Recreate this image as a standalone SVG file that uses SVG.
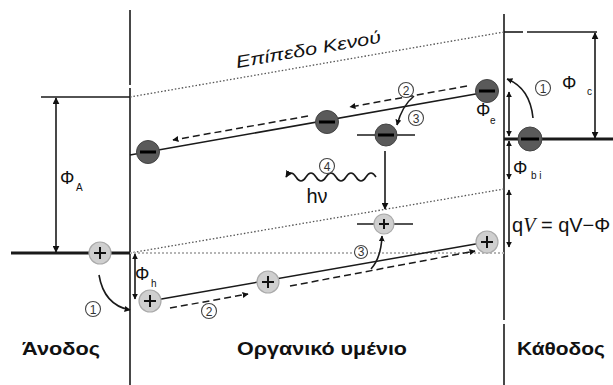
<svg xmlns="http://www.w3.org/2000/svg" width="613" height="385" viewBox="0 0 613 385">
<style>
.ln{stroke:#1a1a1a;fill:none;stroke-width:1.6}
.thick{stroke:#1a1a1a;fill:none;stroke-width:3.2}
.band{stroke:#1a1a1a;fill:none;stroke-width:1.5}
.dash{stroke:#1a1a1a;fill:none;stroke-width:1.5;stroke-dasharray:7 4}
.dot{stroke:#555;fill:none;stroke-width:1.3;stroke-dasharray:1.5 2}
.ldot{stroke:#b5b5b5;fill:none;stroke-width:1.8;stroke-dasharray:2 2}
.el{fill:#5a5a5a;stroke:#444;stroke-width:1}
.ho{fill:#cfcfcf;stroke:#aaa;stroke-width:1.2}
.bar{stroke:#000;stroke-width:3}
.plus{stroke:#111;stroke-width:2}
.t{font-family:"Liberation Sans",Arial,sans-serif;fill:#111}
.lab{font-family:"Liberation Sans",Arial,sans-serif;font-weight:bold;font-size:18px;fill:#111}
.num{font-family:"Liberation Sans",Arial,sans-serif;font-size:12px;fill:#333;text-anchor:middle}
.nc{fill:#fff;stroke:#444;stroke-width:1.1}
</style>
<defs>
<marker id="ah" viewBox="0 0 10 10" refX="9" refY="5" markerWidth="7" markerHeight="7" markerUnits="userSpaceOnUse" orient="auto-start-reverse">
<path d="M0,0 L10,5 L0,10 z" fill="#111"/>
</marker>
<marker id="ahs" viewBox="0 0 10 10" refX="9" refY="5" markerWidth="6" markerHeight="6" markerUnits="userSpaceOnUse" orient="auto-start-reverse">
<path d="M0,0 L10,5 L0,10 z" fill="#111"/>
</marker>
</defs>

<g id="frame">
<line class="ln" x1="130" y1="10" x2="130" y2="85"/>
<line class="ln" x1="130" y1="88" x2="130" y2="385"/>
<line class="ln" x1="504" y1="14" x2="504" y2="320"/>
<line class="ln" x1="504" y1="324" x2="504" y2="385"/>
</g>

<g id="levels">
<line class="dot" x1="130" y1="97" x2="504" y2="32"/>
<line class="ln" x1="41" y1="97" x2="130" y2="97"/>
<line class="ln" x1="504" y1="32" x2="523" y2="32"/>
<line class="ln" x1="527" y1="32" x2="597" y2="32"/>
<line class="thick" x1="11" y1="253" x2="130" y2="253"/>
<line class="thick" x1="504" y1="139" x2="613" y2="139"/>
<line class="dot" x1="130" y1="253" x2="504" y2="189"/>
<line class="ldot" x1="130" y1="253" x2="504" y2="253"/>
<line class="band" x1="130" y1="155" x2="487" y2="92"/>
<line class="band" x1="150" y1="301" x2="487" y2="242"/>
<line class="ln" x1="357" y1="135" x2="415" y2="135"/>
<line class="ln" x1="357" y1="224" x2="413" y2="224"/>
</g>

<g id="connectors">
<line class="ln" x1="56" y1="98" x2="56" y2="252" marker-start="url(#ah)" marker-end="url(#ah)"/>
<line class="ln" x1="595" y1="33" x2="595" y2="138" marker-start="url(#ah)" marker-end="url(#ah)"/>
<line class="ln" x1="135" y1="254" x2="135" y2="299" marker-start="url(#ahs)" marker-end="url(#ahs)"/>
<line class="ln" x1="509" y1="92" x2="509" y2="136" marker-start="url(#ahs)" marker-end="url(#ahs)"/>
<line class="ln" x1="509" y1="141" x2="509" y2="179" marker-start="url(#ahs)" marker-end="url(#ahs)"/>
<line class="ln" x1="509" y1="190" x2="509" y2="247" marker-start="url(#ahs)" marker-end="url(#ahs)"/>
<line class="dash" x1="467" y1="86" x2="350" y2="107" marker-end="url(#ahs)"/>
<line class="dash" x1="308" y1="116" x2="173" y2="140" marker-end="url(#ahs)"/>
<line class="dash" x1="170" y1="308" x2="248" y2="294" marker-end="url(#ahs)"/>
<line class="dash" x1="290" y1="286" x2="475" y2="251" marker-end="url(#ahs)"/>
<path class="ln" d="M533,118 Q530,88 507,79" marker-end="url(#ahs)"/>
<path class="ln" d="M99,275 Q104,305 130,310" marker-end="url(#ahs)"/>
<path class="ln" d="M414,96 Q402,106 397,125" stroke-width="1.2" marker-end="url(#ahs)"/>
<path class="ln" d="M371,269 Q381,258 382,236" stroke-width="1.2" marker-end="url(#ahs)"/>
<line class="ln" x1="385" y1="151" x2="385" y2="209" marker-end="url(#ah)"/>
<path class="ln" stroke-width="1.3" d="M376,177 q-5,-8 -10,0 t-10,0 t-10,0 t-10,0 t-10,0 t-10,0 t-10,0 t-10,0 t-10,0" marker-end="url(#ah)"/>
</g>

<g id="electrons">
<g id="e1"><circle class="el" cx="148" cy="152" r="11.5"/><line class="bar" x1="140" y1="152" x2="156" y2="152"/></g>
<g id="e2"><circle class="el" cx="327" cy="122" r="11.5"/><line class="bar" x1="319" y1="122" x2="335" y2="122"/></g>
<g id="e3"><circle class="el" cx="487" cy="91" r="11.5"/><line class="bar" x1="479" y1="91" x2="495" y2="91"/></g>
<g id="e4"><circle class="el" cx="386" cy="135" r="11"/><line class="bar" x1="378" y1="135" x2="394" y2="135"/></g>
<g id="e5"><circle class="el" cx="530" cy="139" r="12"/><line class="bar" x1="521" y1="139" x2="539" y2="139"/></g>
</g>

<g id="holes">
<g id="h1"><circle class="ho" cx="100" cy="253" r="11"/><line class="plus" x1="94" y1="253" x2="106" y2="253"/><line class="plus" x1="100" y1="247" x2="100" y2="259"/></g>
<g id="h2"><circle class="ho" cx="150" cy="301" r="11"/><line class="plus" x1="144" y1="301" x2="156" y2="301"/><line class="plus" x1="150" y1="295" x2="150" y2="307"/></g>
<g id="h3"><circle class="ho" cx="268" cy="282" r="11"/><line class="plus" x1="262" y1="282" x2="274" y2="282"/><line class="plus" x1="268" y1="276" x2="268" y2="288"/></g>
<g id="h4"><circle class="ho" cx="487" cy="242" r="11"/><line class="plus" x1="481" y1="242" x2="493" y2="242"/><line class="plus" x1="487" y1="236" x2="487" y2="248"/></g>
<g id="h5"><circle class="ho" cx="384" cy="224" r="10"/><line class="plus" x1="379" y1="224" x2="389" y2="224"/><line class="plus" x1="384" y1="219" x2="384" y2="229"/></g>
</g>

<g id="numbers">
<g id="n1a"><circle class="nc" cx="93" cy="309" r="7.5"/><text class="num" x="93" y="313.5">1</text></g>
<g id="n1c"><circle class="nc" cx="543" cy="88" r="7.5"/><text class="num" x="543" y="92.5">1</text></g>
<g id="n2t"><circle class="nc" cx="406" cy="90" r="7.5"/><text class="num" x="406" y="94.5">2</text></g>
<g id="n2b"><circle class="nc" cx="209" cy="311" r="7.5"/><text class="num" x="209" y="315.5">2</text></g>
<g id="n3t"><circle class="nc" cx="416" cy="118" r="7.5"/><text class="num" x="416" y="122.5">3</text></g>
<g id="n3b"><circle class="nc" cx="361" cy="252" r="6.5"/><text class="num" x="361" y="256" font-size="10">3</text></g>
<g id="n4"><circle class="nc" cx="327" cy="166" r="7.5"/><text class="num" x="327" y="170.5">4</text></g>
</g>

<g id="labels">
<text class="t" font-size="20" x="317" y="203" text-anchor="middle">hν</text>
<text class="t" font-size="18" x="60" y="184">Φ</text><text class="t" font-size="10" x="76" y="191">A</text>
<text class="t" font-size="18" x="562" y="89">Φ</text><text class="t" font-size="10" x="587" y="95">c</text>
<text class="t" font-size="18" x="476" y="116">Φ</text><text class="t" font-size="10" x="490" y="124">e</text>
<text class="t" font-size="18" x="513" y="174">Φ</text><text class="t" font-size="10" x="531" y="179">b i</text>
<text class="t" font-size="18" x="135" y="280">Φ</text><text class="t" font-size="10" x="151" y="287">h</text>
<text class="t" font-size="20" x="512" y="232">q<tspan font-family="Liberation Serif" font-style="italic">V</tspan> = qV−Φ</text>
<text class="t" font-size="17" font-style="italic" x="237" y="68" transform="rotate(-10 237 68)" textLength="147" lengthAdjust="spacingAndGlyphs">Επίπεδο Κενού</text>
<text class="lab" x="22" y="355" textLength="78" lengthAdjust="spacingAndGlyphs">Άνοδος</text>
<text class="lab" x="237" y="355" textLength="170" lengthAdjust="spacingAndGlyphs">Οργανικό υμένιο</text>
<text class="lab" x="517" y="355" textLength="88" lengthAdjust="spacingAndGlyphs">Κάθοδος</text>
</g>
</svg>
